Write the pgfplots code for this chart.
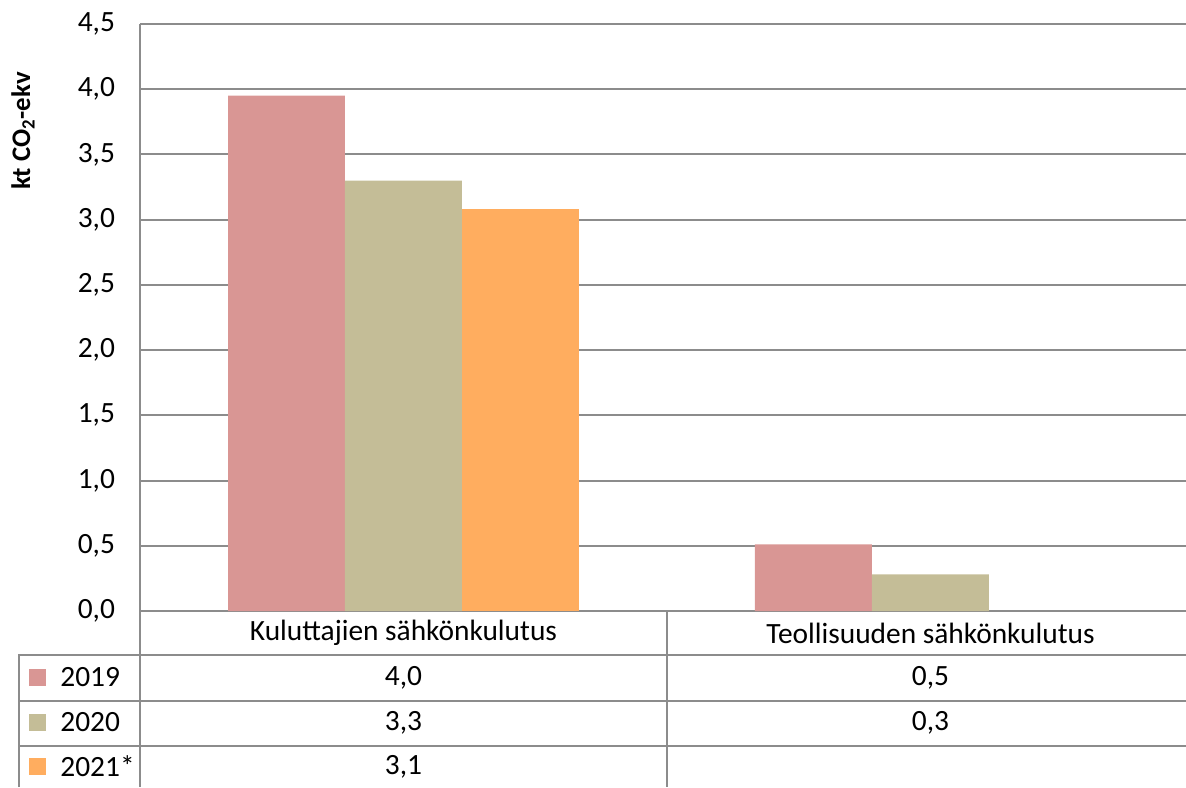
\documentclass[border=0pt]{standalone}
\usepackage{fontspec}
\setmainfont{Carlito}
\usepackage{pgfplots}
\pgfplotsset{compat=1.18}
\definecolor{c19}{HTML}{D99694}
\definecolor{c20}{HTML}{C4BD97}
\definecolor{c21}{HTML}{FFAD5F}
\definecolor{gridc}{HTML}{8C8C8C}
\newcommand{\chartfont}{\fontsize{14.7}{17.6}\selectfont}

\begin{document}
\begin{tikzpicture}
\begin{axis}[
    at={(0,0)}, anchor=south west,
    scale only axis,
    width=523pt, height=293.5pt,
    ybar=0pt, bar width=0.222,
    xmin=-0.5, xmax=1.485,
    ymin=0, ymax=4.5,
    xtick=\empty,
    ytick={0,0.5,1,1.5,2,2.5,3,3.5,4,4.5},
    ymajorgrids,
    grid style={draw=gridc, line width=1pt},
    axis line style={draw=none},
    major tick length=0pt,
    yticklabel style={font=\chartfont, xshift=-9pt,
        /pgf/number format/.cd, fixed, fixed zerofill, precision=1,
        use comma, assume math mode=true},
]
\addplot[fill=c19, draw=none] coordinates {(0,3.95) (1,0.51)};
\addplot[fill=c20, draw=none] coordinates {(0,3.30) (1,0.28)};
\addplot[fill=c21, draw=none] coordinates {(0,3.08)};
\coordinate (O) at (rel axis cs:0,0);
\end{axis}

% data table below the plot, in pixel units from the axis corner
\begin{scope}[shift={(O)}, x=0.5pt, y=-0.5pt]
  \draw[gridc, line width=1pt] (0,-587) -- (0,176);
  \draw[gridc, line width=1pt] (527,0) -- (527,176);
  \draw[gridc, line width=1pt] (-121,176) -- (-121,44) -- (1050,44);
  \draw[gridc, line width=1pt] (-121,89.5) -- (1050,89.5);
  \draw[gridc, line width=1pt] (-121,135) -- (1050,135);

  \node[font=\chartfont] at (263.5,22) {Kuluttajien sähkönkulutus};
  \node[font=\chartfont] at (790.5,22) {Teollisuuden sähkönkulutus};

  \fill[c19] (-111,58) rectangle (-94,75);
  \fill[c20] (-111,103) rectangle (-94,120);
  \fill[c21] (-111,147) rectangle (-94,164);
  \node[font=\chartfont, anchor=west, inner sep=0pt] at (-80,66.5) {2019};
  \node[font=\chartfont, anchor=west, inner sep=0pt] at (-80,111.5) {2020};
  \node[font=\chartfont, anchor=west, inner sep=0pt] at (-80,155.5) {2021*};

  \node[font=\chartfont] at (263.5,66.5) {4,0};
  \node[font=\chartfont] at (790.5,66.5) {0,5};
  \node[font=\chartfont] at (263.5,111.5) {3,3};
  \node[font=\chartfont] at (790.5,111.5) {0,3};
  \node[font=\chartfont] at (263.5,155.5) {3,1};

  \node[font=\bfseries\fontsize{13.4}{16}\selectfont, rotate=90] at (-117,-480) {kt CO\textsubscript{2}-ekv};

  \pgfresetboundingbox
  \path (-140,-611) rectangle (1046,176);
\end{scope}
\end{tikzpicture}
\end{document}
